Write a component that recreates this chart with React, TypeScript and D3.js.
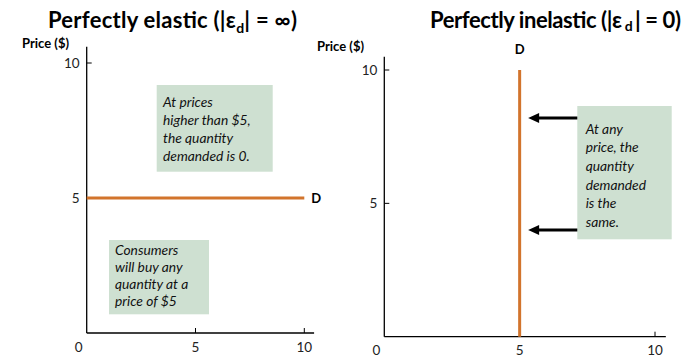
import React from "react";
import * as d3 from "d3";

const xTicks = [5, 10];
const yTicks = [5, 10];
const elasticDemand = [
  { q: 0, p: 5 },
  { q: 10, p: 5 },
];
const inelasticDemand = [
  { q: 5, p: 0 },
  { q: 5, p: 10 },
];
const arrowPrices = [8.2, 4.0];
const leftNoteTop = ["At prices", "higher than $5,", "the quantity", "demanded is 0."];
const leftNoteBottom = ["Consumers", "will buy any", "quantity at a", "price of $5"];
const rightNote = ["At any", "price, the", "quantity", "demanded", "is the", "same."];

const ORANGE = "#D2742C";
const BOX = "#CEE0D1";
const FONT = "Lato, 'Open Sans', sans-serif";

export default function App() {
  // left panel scales
  const xL = d3.scaleLinear().domain([0, 10]).range([86.7, 304.3]);
  const yL = d3.scaleLinear().domain([0, 10]).range([333, 63]);
  // right panel scales
  const xR = d3.scaleLinear().domain([0, 10]).range([384.3, 655]);
  const yR = d3.scaleLinear().domain([0, 10]).range([336.7, 70]);

  const line = (xs: any, ys: any) =>
    d3
      .line<{ q: number; p: number }>()
      .x((d) => xs(d.q))
      .y((d) => ys(d.p));

  const axisColor = "#000";

  const renderAxes = (xs: any, ys: any, yTop: number, xEnd: number) => (
    <g>
      <line x1={xs(0)} x2={xs(0)} y1={ys(0)} y2={ys(yTop)} stroke={axisColor} strokeWidth={1.3} />
      <line x1={xs(0)} x2={xs(xEnd)} y1={ys(0)} y2={ys(0)} stroke={axisColor} strokeWidth={1.3} />
      {yTicks.map((t) => (
        <g key={"y" + t}>
          <line x1={xs(0)} x2={xs(0) + 5} y1={ys(t)} y2={ys(t)} stroke={axisColor} strokeWidth={1} />
          <text x={xs(0) - 7} y={ys(t)} dy="0.35em" textAnchor="end" fontSize={13.5} fontFamily={FONT} fill="#222">
            {t}
          </text>
        </g>
      ))}
      {xTicks.map((t) => (
        <g key={"x" + t}>
          <line x1={xs(t)} x2={xs(t)} y1={ys(0)} y2={ys(0) - 5} stroke={axisColor} strokeWidth={1} />
          <text x={xs(t)} y={ys(0) + 14} dy="0.35em" textAnchor="middle" fontSize={13.5} fontFamily={FONT} fill="#222">
            {t}
          </text>
        </g>
      ))}
      <text x={xs(0) - 8} y={ys(0) + 14} dy="0.35em" textAnchor="middle" fontSize={13.5} fontFamily={FONT} fill="#222">
        0
      </text>
    </g>
  );

  const noteText = (lines: string[], x: number, y0: number, step: number) =>
    lines.map((l, i) => (
      <text
        key={l}
        x={x}
        y={y0 + i * step}
        dy="0.35em"
        fontSize={13.8}
        fontStyle="italic"
        fontFamily={FONT}
        fill="#111"
      >
        {l}
      </text>
    ));

  return (
    <svg width={699} height={358} style={{ position: "absolute", left: 0, top: 0, background: "#fff" }}>
      {/* Titles */}
      <text x={48} y={28} fontSize={22} fontWeight="bold" fontFamily={FONT} fill="#000" textLength={249} lengthAdjust="spacing">
        Perfectly elastic (|ε
        <tspan fontSize={14} dy={5}>d</tspan>
        <tspan dy={-5}>| = ∞)</tspan>
      </text>
      <text x={430} y={28} fontSize={22} fontWeight="bold" fontFamily={FONT} fill="#000" textLength={251} lengthAdjust="spacing">
        Perfectly inelastic (|ε
        <tspan fontSize={14} dy={3}> d </tspan>
        <tspan dy={-3}>| = 0)</tspan>
      </text>
      <text x={22} y={43} dy="0.35em" fontSize={13} fontWeight="bold" fontFamily={FONT} fill="#000">
        Price ($)
      </text>
      <text x={317} y={46} dy="0.35em" fontSize={13} fontWeight="bold" fontFamily={FONT} fill="#000">
        Price ($)
      </text>

      {/* Left panel */}
      {renderAxes(xL, yL, 10.6, 10.45)}
      <rect x={156.7} y={85} width={116} height={86.7} fill={BOX} />
      {noteText(leftNoteTop, 163, 101.7, 18.3)}
      <rect x={109} y={240} width={100} height={74.3} fill={BOX} />
      {noteText(leftNoteBottom, 115, 250, 17.2)}
      <path d={line(xL, yL)(elasticDemand) || ""} stroke={ORANGE} strokeWidth={3} fill="none" />
      <text x={xL(10) + 7} y={yL(5)} dy="0.35em" fontSize={13} fontWeight="bold" fontFamily={FONT} fill="#000">
        D
      </text>

      {/* Right panel */}
      {renderAxes(xR, yR, 10.5, 10.4)}
      <path d={line(xR, yR)(inelasticDemand) || ""} stroke={ORANGE} strokeWidth={3} fill="none" />
      <text x={xR(5)} y={49} dy="0.35em" textAnchor="middle" fontSize={13} fontWeight="bold" fontFamily={FONT} fill="#000">
        D
      </text>
      <rect x={577.3} y={106} width={94.4} height={133.3} fill={BOX} />
      {noteText(rightNote, 585.7, 129, 18.6)}
      {arrowPrices.map((p) => {
        const y = yR(p);
        const tip = xR(5) + 8.5;
        return (
          <g key={"a" + p}>
            <line x1={577.3} x2={tip + 8} y1={y} y2={y} stroke="#000" strokeWidth={3} />
            <path d={`M${tip},${y} L${tip + 11},${y - 5} L${tip + 11},${y + 5} Z`} fill="#000" />
          </g>
        );
      })}
    </svg>
  );
}
